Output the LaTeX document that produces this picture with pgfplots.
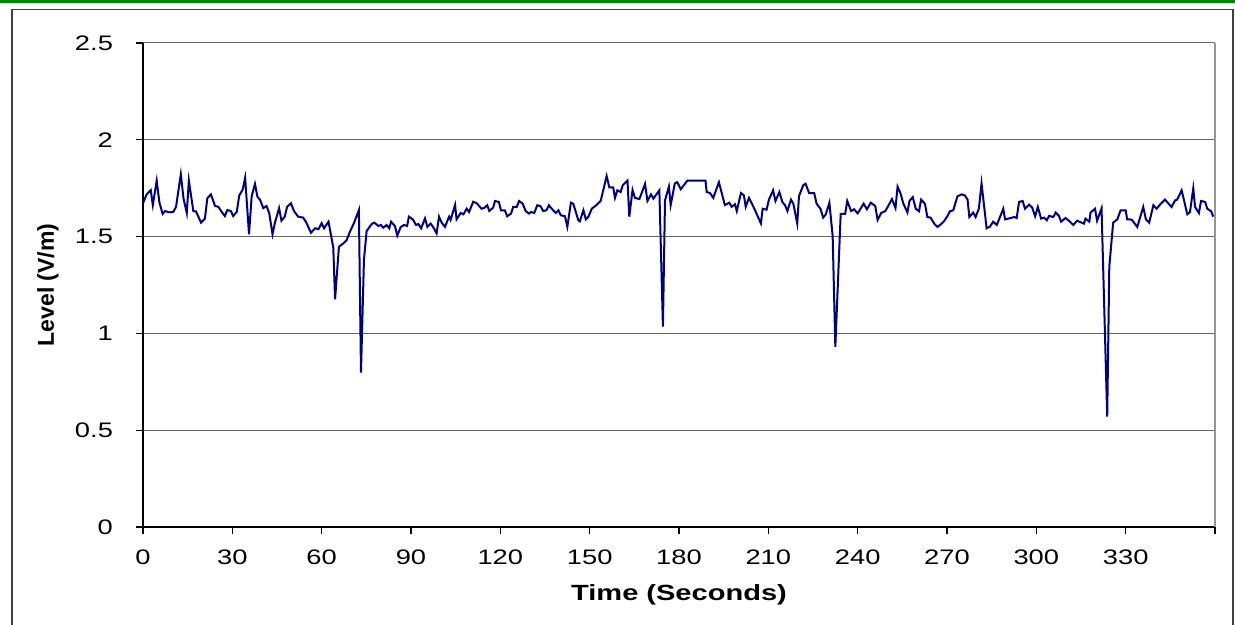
\documentclass[border=0pt]{standalone}
\usepackage{fontspec}
\setmainfont{Liberation Sans}
% the reference's text is stretched sideways
\newfontfamily\tickfont{Liberation Sans}[FakeStretch=1.3]
\newfontfamily\labfont{Liberation Sans}[FakeStretch=1.32]
\usepackage{pgfplots}
\pgfplotsset{compat=1.18}
\definecolor{navyline}{RGB}{0,0,128}
\definecolor{gridgray}{RGB}{100,100,100}
\definecolor{bordergray}{RGB}{150,150,150}
\definecolor{topgreen}{RGB}{0,128,0}

\begin{document}
\begin{tikzpicture}
\useasboundingbox (0,0) rectangle (617.5pt,312.5pt);
% outer frame and green strip
\fill[topgreen] (0,311.2pt) rectangle (617.5pt,312.5pt);
\draw[black!75, line width=0.6pt] (6pt,-2pt) -- (6pt,307.8pt) -- (616.5pt,307.8pt) -- (616.5pt,-2pt);

\begin{axis}[
  at={(71.5pt,49pt)}, anchor=south west,
  scale only axis,
  width=536pt, height=242pt,
  xmin=0, xmax=360, ymin=0, ymax=2.5,
  axis x line*=bottom, axis y line*=left,
  axis line style={-, black, line width=0.7pt},
  xtick={0,30,...,360},
  xticklabels={0,30,60,90,120,150,180,210,240,270,300,330,{}},
  ytick={0,0.5,...,2.5},
  yticklabels={0,0.5,1,1.5,2,2.5},
  tick align=outside,
  major tick length=3.5pt,
  tick style={black, line width=0.6pt},
  ymajorgrids,
  major grid style={gridgray, line width=0.5pt},
  /pgf/number format/assume math mode=true,
  ticklabel style={font=\tickfont\fontsize{10.5}{12}\selectfont},
  xticklabel style={yshift=-4.5pt},
  yticklabel style={xshift=-8pt},
  xlabel={Time (Seconds)},
  ylabel={Level (V/m)},
  xlabel style={font=\labfont\bfseries\fontsize{11}{13}\selectfont,
    at={(axis description cs:0.5,-0.1405)}, anchor=center},
  ylabel style={font=\bfseries\fontsize{11.5}{13}\selectfont,
    at={(axis description cs:-0.0886,0.5)}, anchor=center},
  clip=false,
]
\draw[bordergray, line width=1pt] (rel axis cs:1,0) -- (rel axis cs:1,1);

\addplot[navyline, line width=1pt] coordinates {
(0,1.672)(1.2,1.718)(2.6,1.74)(3.3,1.663)(4.6,1.789)(5.5,1.677)(6.6,1.617)(7.4,1.632)
(8.9,1.625)(10.2,1.628)(11.1,1.654)(12.7,1.822)(13.6,1.697)(14.7,1.622)(15.4,1.789)
(16.9,1.632)(17.8,1.63)(19.5,1.572)(20.8,1.593)(21.6,1.698)(22.8,1.718)(24.2,1.658)
(25.3,1.654)(26.4,1.628)(27.5,1.606)(28.3,1.637)(29.5,1.632)(30.3,1.606)(31.5,1.628)
(32.3,1.711)(33.5,1.744)(34.3,1.804)(35.6,1.512)(36.5,1.709)(37.6,1.772)(38.4,1.707)
(39.3,1.69)(40.4,1.647)(41.5,1.658)(42.4,1.62)(43.5,1.512)(44.3,1.572)(45.7,1.647)
(46.5,1.582)(47.6,1.603)(48.4,1.654)(49.7,1.672)(50.7,1.632)(52.1,1.603)(53.8,1.598)
(54.7,1.577)(56.4,1.52)(57.8,1.543)(58.9,1.538)(60.0,1.569)(60.8,1.543)(62.3,1.577)
(63.9,1.443)(64.5,1.176)(65.8,1.448)(67.3,1.465)(68.4,1.482)(69.5,1.525)(70.9,1.572)
(72.5,1.637)(73.2,0.797)(74.2,1.38)(75.1,1.529)(76.8,1.565)(77.7,1.572)(79.0,1.555)
(79.9,1.56)(80.7,1.546)(81.8,1.56)(82.7,1.543)(83.3,1.577)(84.6,1.555)(85.4,1.505)
(86.5,1.548)(87.6,1.56)(88.7,1.555)(89.3,1.603)(90.6,1.589)(91.7,1.56)(92.5,1.565)
(93.4,1.543)(94.7,1.594)(95.5,1.55)(96.6,1.567)(97.5,1.548)(98.6,1.517)(99.4,1.603)
(100.3,1.572)(101.4,1.55)(102.8,1.603)(103.3,1.586)(104.8,1.663)(105.3,1.589)
(106.7,1.622)(107.6,1.615)(108.7,1.644)(109.5,1.627)(110.9,1.68)(112.1,1.672)
(113.7,1.644)(114.6,1.648)(115.6,1.662)(116.3,1.632)(117.6,1.65)(118.2,1.684)
(119.5,1.679)(120.2,1.636)(121.5,1.636)(122.3,1.605)(123.6,1.619)(124.3,1.653)
(125.5,1.653)(126.3,1.684)(127.5,1.67)(128.5,1.632)(129.6,1.619)(130.3,1.627)
(131.4,1.622)(132.4,1.662)(133.5,1.657)(134.4,1.632)(135.5,1.636)(136.3,1.662)
(137.5,1.64)(138.6,1.622)(139.5,1.636)(140.3,1.61)(141.7,1.605)(142.5,1.551)
(143.7,1.675)(144.5,1.67)(146.2,1.584)(146.7,1.579)(147.9,1.636)(148.7,1.589)
(149.6,1.603)(150.7,1.644)(152.2,1.662)(153.7,1.684)(155.7,1.813)(156.6,1.754)
(157.9,1.754)(158.5,1.70)(159.3,1.739)(160.4,1.73)(161.1,1.765)(162.7,1.789)
(163.3,1.603)(164.4,1.741)(165.2,1.70)(166.7,1.694)(168.6,1.772)(169.4,1.684)
(170.6,1.718)(171.4,1.696)(173.4,1.739)(174.6,1.035)(175.3,1.687)(176.6,1.758)
(177.2,1.663)(178.6,1.775)(179.4,1.781)(180.6,1.745)(182.8,1.789)(188.9,1.789)
(189.3,1.73)(190.4,1.725)(191.5,1.70)(193.4,1.781)(195.4,1.663)(196.9,1.675)
(197.7,1.654)(198.8,1.667)(199.4,1.632)(200.8,1.725)(201.8,1.713)(202.4,1.654)
(203.5,1.70)(205.3,1.644)(207.5,1.568)(208.1,1.644)(209.4,1.639)(210.2,1.691)
(211.6,1.739)(212.4,1.684)(213.7,1.73)(214.7,1.679)(215.6,1.662)(216.4,1.632)
(217.6,1.691)(218.4,1.67)(219.7,1.568)(220.3,1.709)(221.7,1.765)(222.5,1.773)
(223.7,1.725)(225.4,1.725)(226.2,1.67)(227.5,1.644)(228.4,1.598)(229.3,1.615)
(230.5,1.675)(231.6,1.503)(232.5,0.931)(234.3,1.617)(235.8,1.617)(236.5,1.684)
(237.8,1.632)(238.8,1.641)(240.0,1.62)(242.0,1.67)(243.1,1.641)(244.4,1.675)
(245.9,1.658)(246.7,1.586)(247.9,1.622)(249.3,1.632)(250.4,1.662)(251.5,1.694)
(252.7,1.648)(253.4,1.758)(254.4,1.723)(255.3,1.672)(256.7,1.625)(257.4,1.684)
(258.5,1.704)(259.5,1.644)(260.6,1.631)(261.3,1.691)(262.6,1.67)(263.4,1.601)
(264.5,1.598)(265.7,1.567)(266.8,1.55)(267.9,1.563)(269.0,1.579)(270.1,1.605)
(271.0,1.631)(272.1,1.636)(273.5,1.708)(274.9,1.718)(276.0,1.713)(276.9,1.691)
(277.5,1.601)(278.8,1.624)(279.6,1.601)(280.7,1.644)(281.6,1.775)(283.3,1.543)
(284.4,1.551)(285.5,1.577)(286.7,1.56)(287.8,1.601)(288.9,1.644)(289.5,1.589)
(291.4,1.596)(292.6,1.601)(293.4,1.596)(294.2,1.679)(295.4,1.684)(296.2,1.644)
(297.6,1.665)(298.6,1.65)(299.6,1.605)(300.5,1.653)(301.6,1.593)(302.6,1.598)
(303.5,1.584)(304.3,1.607)(305.7,1.601)(306.5,1.624)(307.6,1.607)(308.3,1.577)
(309.8,1.596)(311.3,1.577)(312.4,1.56)(313.7,1.582)(315.2,1.572)(316.0,1.567)
(316.5,1.593)(317.8,1.577)(318.2,1.624)(319.7,1.644)(320.4,1.582)(321.9,1.646)
(323.8,0.57)(324.5,1.345)(325.8,1.572)(327.2,1.589)(328.3,1.636)(330.0,1.636)
(330.5,1.589)(332.0,1.588)(333.9,1.55)(335.9,1.653)(336.8,1.589)(337.9,1.572)
(339.3,1.662)(340.4,1.644)(341.5,1.665)(343.2,1.691)(345.4,1.653)(346.6,1.687)
(347.3,1.691)(348.8,1.739)(350.7,1.615)(351.6,1.627)(352.7,1.749)(353.3,1.653)
(354.6,1.622)(355.3,1.684)(356.7,1.679)(357.4,1.644)(358.7,1.631)(359.4,1.603)
};
\end{axis}
\end{tikzpicture}
\end{document}
